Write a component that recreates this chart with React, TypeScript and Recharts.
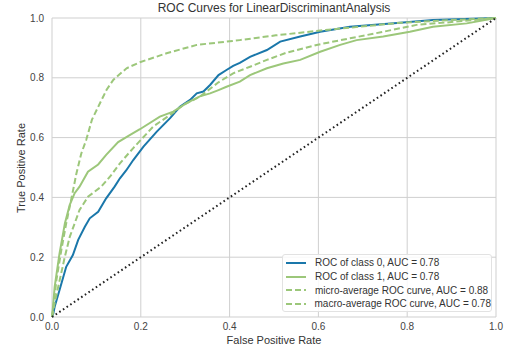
import { LineChart, Line, XAxis, YAxis, CartesianGrid } from 'recharts';

const TICKS = [0, 0.2, 0.4, 0.6, 0.8, 1.0];

const class0Fpr = [0, 0.003, 0.006, 0.017, 0.032, 0.047, 0.059, 0.074, 0.085, 0.104, 0.122, 0.141, 0.153, 0.167, 0.183, 0.206, 0.236, 0.266, 0.288, 0.311, 0.326, 0.341, 0.356, 0.375, 0.393, 0.408, 0.423, 0.446, 0.484, 0.514, 0.559, 0.604, 0.671, 0.784, 0.858, 1.0];
const class0Tpr = [0, 0.012, 0.034, 0.09, 0.168, 0.207, 0.258, 0.302, 0.33, 0.352, 0.397, 0.436, 0.464, 0.49, 0.525, 0.57, 0.62, 0.665, 0.703, 0.726, 0.748, 0.754, 0.776, 0.809, 0.826, 0.84, 0.85, 0.87, 0.893, 0.921, 0.938, 0.954, 0.971, 0.984, 0.993, 1.0];

const class1Fpr = [0, 0.002, 0.006, 0.017, 0.029, 0.04, 0.051, 0.062, 0.081, 0.104, 0.122, 0.149, 0.176, 0.198, 0.243, 0.273, 0.303, 0.333, 0.356, 0.375, 0.393, 0.423, 0.446, 0.484, 0.521, 0.559, 0.604, 0.649, 0.686, 0.746, 0.806, 0.858, 0.934, 1.0];
const class1Tpr = [0, 0.03, 0.101, 0.213, 0.313, 0.375, 0.414, 0.436, 0.486, 0.51, 0.542, 0.585, 0.609, 0.628, 0.67, 0.687, 0.715, 0.738, 0.748, 0.759, 0.77, 0.787, 0.809, 0.832, 0.848, 0.86, 0.887, 0.91, 0.926, 0.938, 0.954, 0.971, 0.982, 1.0];

const microFpr = [0, 0.003, 0.01, 0.021, 0.032, 0.043, 0.055, 0.066, 0.077, 0.09, 0.108, 0.123, 0.138, 0.168, 0.198, 0.258, 0.326, 0.423, 0.504, 0.604, 0.784, 0.9, 1.0];
const microTpr = [0, 0.03, 0.124, 0.224, 0.313, 0.391, 0.48, 0.547, 0.592, 0.66, 0.715, 0.76, 0.793, 0.832, 0.852, 0.882, 0.91, 0.926, 0.942, 0.958, 0.984, 0.993, 1.0];

const macroFpr = [0, 0.005, 0.014, 0.029, 0.04, 0.051, 0.062, 0.081, 0.111, 0.131, 0.153, 0.183, 0.228, 0.266, 0.296, 0.333, 0.375, 0.408, 0.446, 0.484, 0.528, 0.596, 0.671, 0.746, 0.821, 0.896, 1.0];
const macroTpr = [0, 0.04, 0.101, 0.202, 0.268, 0.313, 0.358, 0.402, 0.436, 0.47, 0.514, 0.565, 0.637, 0.676, 0.709, 0.737, 0.785, 0.815, 0.837, 0.86, 0.884, 0.91, 0.932, 0.954, 0.977, 0.986, 1.0];

const chanceFpr = [0, 1];
const chanceTpr = [0, 1];

const BLUE = '#1a77aa';
const GREEN = '#9cc77a';
const FONT = '"Liberation Sans", Arial, sans-serif';

const toPoints = (xs: number[], ys: number[]) => xs.map((x, i) => ({ x, y: ys[i] }));

const SERIES = [
  { name: 'ROC of class 0, AUC = 0.78', data: toPoints(class0Fpr, class0Tpr), color: BLUE, dash: undefined },
  { name: 'ROC of class 1, AUC = 0.78', data: toPoints(class1Fpr, class1Tpr), color: GREEN, dash: undefined },
  { name: 'micro-average ROC curve, AUC = 0.88', data: toPoints(microFpr, microTpr), color: GREEN, dash: '6 3' },
  { name: 'macro-average ROC curve, AUC = 0.78', data: toPoints(macroFpr, macroTpr), color: GREEN, dash: '6 3' },
];

const tickStyle = { fontSize: 10, fill: '#444', fontFamily: FONT };

export default function App() {
  return (
    <div style={{ position: 'relative', width: 526, height: 353, background: '#fff', fontFamily: FONT }}>
      <style>{'body{margin:0}'}</style>
      <LineChart width={526} height={353} margin={{ top: 18, right: 30, bottom: 0, left: 0 }}>
        <CartesianGrid stroke="#cfcfcf" strokeWidth={1} />
        <XAxis
          type="number"
          dataKey="x"
          domain={[0, 1]}
          ticks={TICKS}
          tickFormatter={(v: number) => v.toFixed(1)}
          axisLine={false}
          tickLine={false}
          tick={tickStyle}
          tickSize={4}
          height={36}
          allowDuplicatedCategory={false}
        />
        <YAxis
          type="number"
          dataKey="y"
          domain={[0, 1]}
          ticks={TICKS}
          tickFormatter={(v: number) => v.toFixed(1)}
          axisLine={false}
          tickLine={false}
          tick={tickStyle}
          width={52}
        />
        {SERIES.map((s) => (
          <Line
            key={s.name}
            data={s.data}
            dataKey="y"
            type="linear"
            stroke={s.color}
            strokeWidth={2}
            strokeDasharray={s.dash}
            dot={false}
            activeDot={false}
            isAnimationActive={false}
          />
        ))}
        <Line
          data={toPoints(chanceFpr, chanceTpr)}
          dataKey="y"
          type="linear"
          stroke="#222"
          strokeWidth={2}
          strokeDasharray="1.6 2.8"
          dot={false}
          activeDot={false}
          isAnimationActive={false}
        />
      </LineChart>

      <div style={{ position: 'absolute', left: 52, width: 444, top: 1, textAlign: 'center', fontSize: 12, color: '#333' }}>
        ROC Curves for LinearDiscriminantAnalysis
      </div>
      <div style={{ position: 'absolute', left: 52, width: 444, top: 334, textAlign: 'center', fontSize: 11, color: '#333' }}>
        False Positive Rate
      </div>
      <div
        style={{
          position: 'absolute',
          left: 21,
          top: 168,
          transform: 'translate(-50%, -50%) rotate(-90deg)',
          whiteSpace: 'nowrap',
          fontSize: 11,
          color: '#333',
        }}
      >
        True Positive Rate
      </div>

      <div
        style={{
          position: 'absolute',
          left: 282,
          top: 254,
          width: 210,
          height: 58,
          border: '1px solid #e2e2e2',
          borderRadius: 3,
          background: 'rgba(255,255,255,0.85)',
          boxSizing: 'border-box',
          paddingTop: 1,
        }}
      >
        {SERIES.map((s) => (
          <div key={s.name} style={{ display: 'flex', alignItems: 'center', height: 13.7, fontSize: 10, color: '#333' }}>
            <svg width={30} height={6} style={{ marginLeft: 2 }}>
              <line x1={1} y1={3} x2={21} y2={3} stroke={s.color} strokeWidth={2} strokeDasharray={s.dash} />
            </svg>
            <span style={{ whiteSpace: 'nowrap' }}>{s.name}</span>
          </div>
        ))}
      </div>
    </div>
  );
}
